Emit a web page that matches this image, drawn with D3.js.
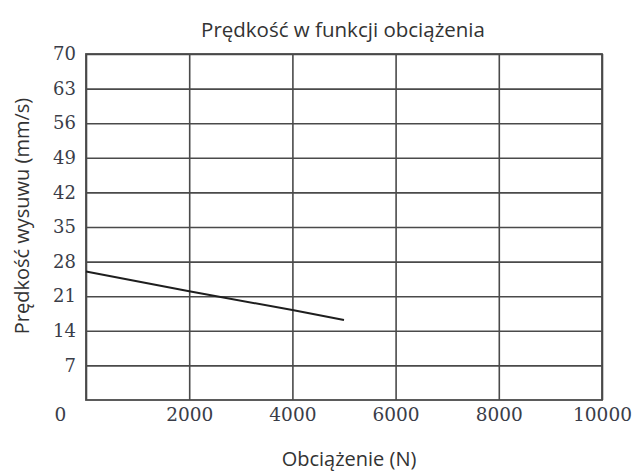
<!DOCTYPE html>
<html>
<head>
<meta charset="utf-8">
<script src="https://cdn.jsdelivr.net/npm/d3@7"></script>
<style>
  body { margin: 0; background: #fff; }
  svg { display: block; }
</style>
</head>
<body>
<div class="chart"></div>
<script>
let width = 633
let height = 473

// values
let loadN = [0, 2000, 4000, 5000]
let speedMm = [26, 22, 18.2, 16.2]
let xTicks = [0, 2000, 4000, 6000, 8000, 10000]
let yTicks = [7, 14, 21, 28, 35, 42, 49, 56, 63, 70]

let chartTitle = 'Prędkość w funkcji obciążenia'
let xTitle = 'Obciążenie (N)'
let yTitle = 'Prędkość wysuwu (mm/s)'

// plot box (window.top is taken, so no "top" here)
let plotL = 86, plotR = 602, plotT = 54, plotB = 400

let x = d3.scaleLinear().domain([0, 10000]).range([plotL, plotR])
let y = d3.scaleLinear().domain([0, 70]).range([plotB, plotT])

let svg = d3.select('div.chart')
    .append('svg')
    .attr('width', width)
    .attr('height', height)

// horizontal grid + y labels
let yAxis = svg.append('g')
    .attr('transform', 'translate(' + plotL + ',0)')
    .call(d3.axisLeft(y).tickValues(yTicks).tickSize(-(plotR - plotL)).tickPadding(10))
yAxis.select('.domain').remove()
yAxis.selectAll('.tick line')
    .style('stroke', '#4a4a4a')
    .style('stroke-width', 1.6)
yAxis.selectAll('.tick text')
    .style('font-family', 'DejaVu Serif')
    .style('font-size', '18px')
    .style('fill', '#3a3d48')

// vertical grid + x labels
let xAxis = svg.append('g')
    .attr('transform', 'translate(0,' + plotB + ')')
    .call(d3.axisBottom(x).tickValues(xTicks).tickFormat(d3.format('d'))
        .tickSize(-(plotB - plotT)).tickPadding(8))
xAxis.select('.domain').remove()
xAxis.selectAll('.tick line')
    .style('stroke', '#4a4a4a')
    .style('stroke-width', 1.6)
xAxis.selectAll('.tick text')
    .attr('y', 8)
    .attr('dy', '0.71em')
    .style('font-family', 'DejaVu Serif')
    .style('font-size', '18.5px')
    .style('fill', '#3a3d48')
// the origin label sits left of the corner
xAxis.selectAll('.tick text')
    .filter(d => d === 0)
    .attr('x', -26)

// frame
svg.append('rect')
    .attr('x', plotL)
    .attr('y', plotT)
    .attr('width', plotR - plotL)
    .attr('height', plotB - plotT)
    .style('fill', 'none')
    .style('stroke', '#4a4a4a')
    .style('stroke-width', 1.8)

// data line
let line = d3.line()
    .x((d, i) => x(loadN[i]))
    .y(d => y(d))
svg.append('path')
    .datum(speedMm)
    .attr('d', line)
    .style('fill', 'none')
    .style('stroke', '#1e1e1e')
    .style('stroke-width', 2)

// titles
svg.append('text')
    .attr('x', 343)
    .attr('y', 37)
    .attr('text-anchor', 'middle')
    .style('font-family', 'Open Sans')
    .style('font-size', '20.5px')
    .style('fill', '#333')
    .text(chartTitle)

svg.append('text')
    .attr('x', 349)
    .attr('y', 466)
    .attr('text-anchor', 'middle')
    .style('font-family', 'Open Sans')
    .style('font-size', '20px')
    .style('fill', '#333')
    .text(xTitle)

svg.append('text')
    .attr('transform', 'translate(29,216) rotate(-90)')
    .attr('text-anchor', 'middle')
    .style('font-family', 'Open Sans')
    .style('font-size', '20px')
    .style('fill', '#333')
    .text(yTitle)
</script>
</body>
</html>
